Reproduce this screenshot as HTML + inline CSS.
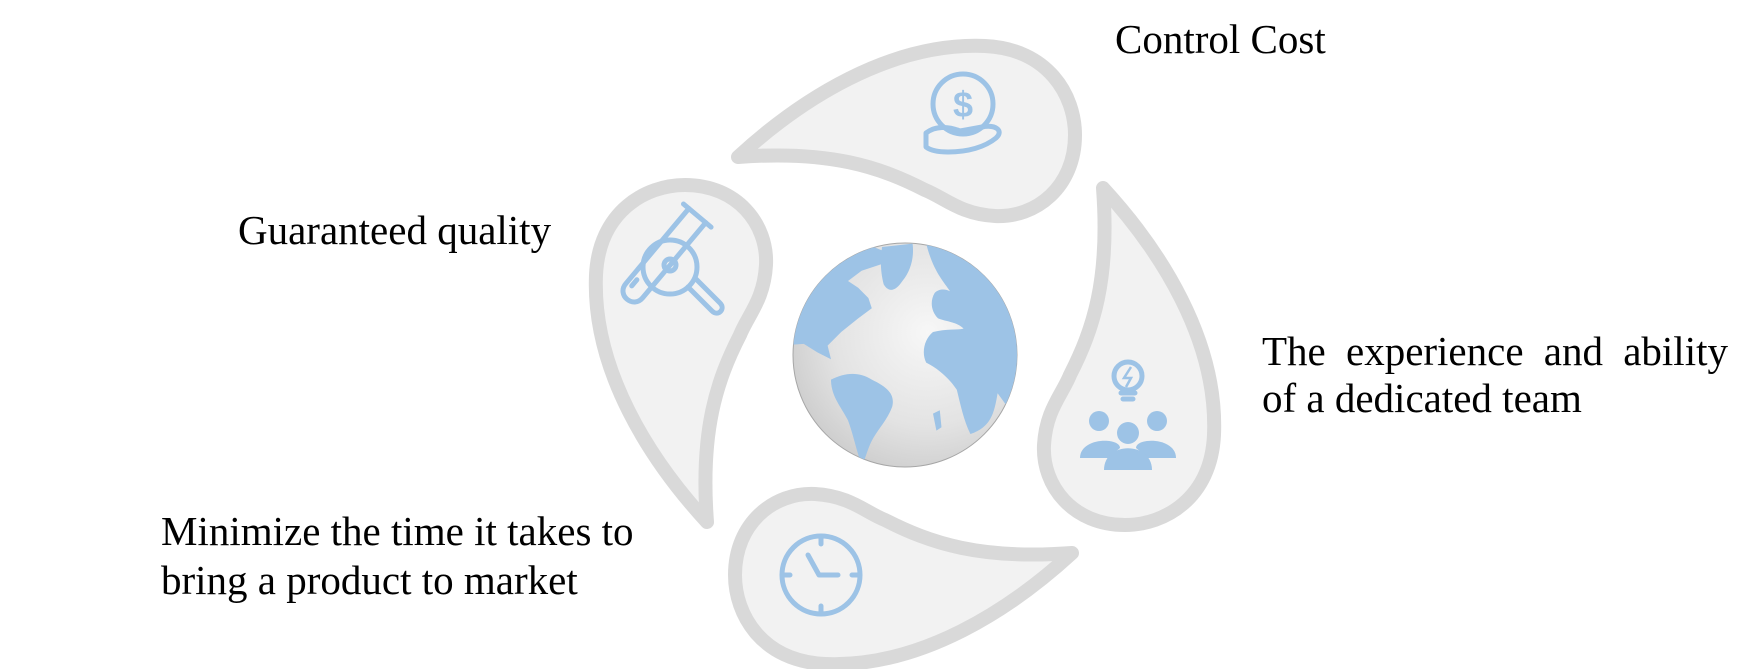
<!DOCTYPE html>
<html><head><meta charset="utf-8"><style>
html,body{margin:0;padding:0;background:#fff;}
body{width:1744px;height:669px;position:relative;overflow:hidden;font-family:"Liberation Serif",serif;color:#000;}
.t{position:absolute;font-size:41px;line-height:41px;white-space:nowrap;}
svg{position:absolute;left:0;top:0;}
</style></head><body>
<svg width="1744" height="669" viewBox="0 0 1744 669">
<defs>
<path id="drop" d="M738,157 C800,100 890,42 985,46 C1048,49 1075,95 1075,135 C1075,187 1036,218 995,216 C960,214 945,198 925,190 C880,167 830,150 738,157 Z"/>
<radialGradient id="gl" cx="0.6" cy="0.4" r="0.7">
<stop offset="0" stop-color="#f7f7f7"/><stop offset="0.6" stop-color="#e3e3e3"/><stop offset="1" stop-color="#c9c9c9"/>
</radialGradient>
<clipPath id="gc"><circle cx="905" cy="355" r="112"/></clipPath>
</defs>
<g fill="#f2f2f2" stroke="#d9d9d9" stroke-width="14" stroke-linejoin="round">
<use href="#drop"/>
<use href="#drop" transform="rotate(90 905 355)"/>
<use href="#drop" transform="rotate(180 905 355)"/>
<use href="#drop" transform="rotate(270 905 355)"/>
</g>
<circle cx="905" cy="355" r="112" fill="url(#gl)" stroke="#a6a6a6" stroke-width="1"/>
<g clip-path="url(#gc)" fill="#9dc3e6">
<g transform="translate(780,230) scale(0.34)">
<path d="M0,340 L0,150 L100,60 L250,40 L300,60 L300,100 L240,120 L200,150 L230,170 L260,200 L270,230 L230,260 L180,300 L140,340 L150,380 L110,360 L70,335 Z"/>
<path d="M300,50 L390,40 C395,80 385,120 360,150 C340,180 320,185 305,160 C295,120 295,90 300,50 Z"/>
<path d="M150,440 C190,420 230,415 270,440 C310,460 340,480 330,520 C315,560 285,590 270,620 C255,650 250,680 240,690 C225,650 215,600 200,560 C180,520 150,490 150,440 Z"/>
<path d="M430,40 L800,0 L800,700 L640,480 C630,540 620,580 560,600 C540,560 530,510 520,470 C500,440 470,410 430,390 C415,360 425,320 450,300 C490,290 520,295 540,290 C520,270 490,270 465,260 C445,240 440,210 455,185 C470,170 490,175 500,180 C480,150 450,120 430,40 Z"/>
<path d="M450,540 L470,530 L475,580 L460,590 Z"/>
</g>
</g>
<g fill="none" stroke="#9dc3e6" stroke-width="5" stroke-linecap="round" stroke-linejoin="round">
<!-- dollar in hand -->
<circle cx="963" cy="104" r="30"/>
<path d="M926,147 L926,133 C935,126 948,126 960,131 L982,127 C996,124 1004,131 996,138 C985,147 968,152 948,152 C938,152 930,150 926,147 Z"/>
<!-- clock -->
<circle cx="821" cy="575" r="39"/>
<path d="M808,555 L819,575 L838,575"/>
<path d="M821,538 L821,544 M821,606 L821,612 M784,575 L790,575 M852,575 L858,575"/>
<!-- magnifier/test tube -->
<circle cx="670" cy="267" r="27"/>
<circle cx="670" cy="265" r="6"/>
<path d="M688,287 L712,311 C718,317 726,309 720,303 L696,279"/>
<g transform="translate(660,260) rotate(-50)">
<path d="M58,-11 L-40,-11 C-55,-11 -55,11 -40,11 L58,11"/>
<path d="M58,-18 L58,18"/>
<path d="M-38,-5 L-30,-5"/>
</g>
<!-- bulb -->
<circle cx="1128" cy="376" r="14"/>
<path d="M1121,393 L1135,393 M1123,399 L1133,399"/>
</g>
<path d="M1131,367 L1124,378 L1131,378 L1126,387" fill="none" stroke="#9dc3e6" stroke-width="2.5"/>
<text x="963" y="117" text-anchor="middle" font-family="Liberation Sans" font-weight="bold" font-size="36" fill="#9dc3e6">$</text>
<g fill="#9dc3e6">
<circle cx="1099" cy="421" r="10"/><circle cx="1157" cy="421" r="10"/><circle cx="1128" cy="433" r="11"/>
<path d="M1080,458 C1080,437 1120,437 1120,448 L1108,458 Z"/>
<path d="M1176,458 C1176,437 1136,437 1136,448 L1148,458 Z"/>
<path d="M1104,470 C1104,441 1152,441 1152,470 Z"/>
</g>
</svg>
<div class="t" style="left:1115px;top:19px;">Control Cost</div>
<div class="t" style="left:238px;top:210px;">Guaranteed quality</div>
<div class="t" style="left:1262px;top:331px;width:466px;text-align:justify;text-align-last:justify;">The experience and ability</div>
<div class="t" style="left:1262px;top:378px;">of a dedicated team</div>
<div class="t" style="left:161px;top:511px;">Minimize the time it takes to</div>
<div class="t" style="left:161px;top:560px;">bring a product to market</div>
</body></html>
